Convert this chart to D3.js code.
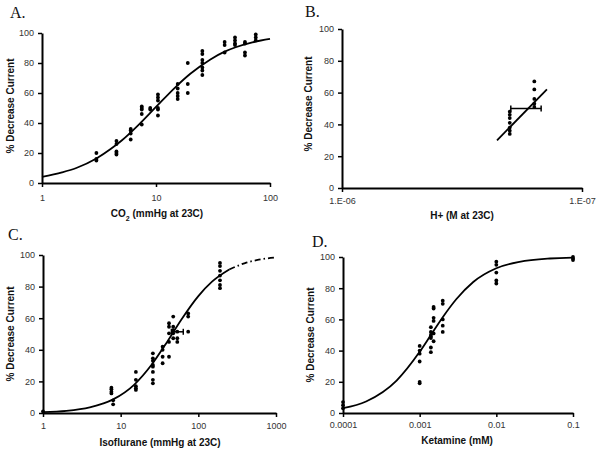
<!DOCTYPE html>
<html><head><meta charset="utf-8">
<script src="https://cdn.jsdelivr.net/npm/d3@7/dist/d3.min.js"></script>
<style>body{margin:0;background:#fff}svg{display:block}</style>
</head><body><svg id="c" width="601" height="458"></svg>
<script>
// ---------- Data ----------
// Panel A: CO2
const co2Conc = [3,3,3, 4.5,4.5,4.5,4.5,4.5, 6,6,6,6, 7.5,7.5,7.5,7.5,7.5, 8.9,8.9,
  10.4,10.4,10.4,10.4,10.4,10.4, 15.5,15.5,15.5,15.5,15.5, 19,19,19,
  25.5,25.5,25.5,25.5,25.5,25.5,25.5, 40,40,40, 49.3,49.3,49.3,49.3, 60.3,60.3,60.3,60.3, 75,75,75];
const co2Pct = [20,16,15, 28,26,21,20,19, 36,35,33,29, 51,50,49,46,39, 50,49,
  59,57,55,50,49,45, 66,63,60,58,56, 80,66,60,
  88,86,82,80,77,75,72, 94,92,87, 97,95,93,92, 94,93,87,85, 99,97,95];
const co2FitX = [1,1.5,2,3,4,5,7,10,15,20,30,40,50,70,100];
const co2FitY = [4.1,7.1,10,16.3,22.6,28.3,38.6,50.7,64.3,72.8,82.4,87.6,90.5,93.8,96.1];

// Panel B: H+
const hConc = [2.0e-7,2.0e-7,2.0e-7,2.0e-7,2.0e-7,2.0e-7,2.0e-7, 1.58e-7,1.58e-7,1.58e-7,1.58e-7,1.58e-7];
const hPct  = [34,36,38,41,44,46,48, 67,62,56,53,51];
const hLineX = [2.26e-7, 1.4e-7];
const hLineY = [30, 62];
const hErrX = [1.98e-7, 1.48e-7];
const hErrY = 50;

// Panel C: Isoflurane
const isoConc = [1, 7.6,7.6,7.6,7.6,8,8, 15.7,15.7,15.7,15.7,15.7,
  26,26,26,26,26,26,26,26, 34.7,34.7,34.7,34.7, 41.9,41.9,41.9,41.9,41.9,
  47.5,47.5,47.5,47.5,47.5, 53.6,53.6,53.6, 74,74,74, 190,190,190,190,190,190,190];
const isoPct = [1, 16,15,13.5,12.4,8,5.5, 26,21,17,15.6,14.6,
  37.8,34.6,33,30.4,29.3,26,21,18.8, 42,40,35.6,31.5, 56.8,54.6,50.4,45,35.6,
  61,54.6,52.5,50.4,47.3, 51.5,47.3,45, 63,61,51.5, 95,93,90,87,84,81,79];
const isoFitX = [1,2,4,8,15,25,40,60,100,150,250];
const isoFitY = [0.6,1.4,3.6,8.6,18,30.5,45.3,58.9,74,83.1,90.8];
const isoExtX = [250,400,600,1000];
const isoExtY = [90.8,94.9,97,98.5];
const isoErrX = [45, 64];
const isoErrY = 51.4;

// Panel D: Ketamine
const ketConc = [0.0001,0.0001,0.0001, 0.001,0.001,0.001,0.001,0.001,0.001,
  0.0014,0.0014,0.0014,0.0014,0.0014,0.0014,0.0014,
  0.00152,0.00152,0.00152,0.00152,0.00152,0.00152,
  0.002,0.002,0.002,0.002,0.002, 0.01,0.01,0.01,0.01,0.01, 0.1,0.1,0.1];
const ketPct = [7,5,3, 43,40,38,33,20,19,
  55,52,50,49,48,42,39,
  68,67,61,59,51,46,
  72,70,60,56,52, 97,95,90,85,83, 100,99,98];
const ketFitX = [0.0001,0.0002,0.0005,0.001,0.0014,0.002,0.003,0.005,0.01,0.02,0.05,0.1];
const ketFitY = [3.1,7.4,20.8,39.2,50,61.4,72.9,84,92.8,96.9,99.05,99.6];

const yTicks = [0,20,40,60,80,100];

// ---------- Drawing ----------
const svg = d3.select('#c');
const SANS = '"Liberation Sans", Arial, sans-serif';
const SERIF = '"Liberation Serif", "Times New Roman", serif';

function panel(o) {
  const g = svg.append('g');
  const x = d3.scaleLog().domain(o.xDomain).range(o.xRange);
  const y = d3.scaleLinear().domain([0,100]).range(o.yRange);

  // letter
  g.append('text').attr('x', o.letter[1]).attr('y', o.letter[2])
    .attr('font-family', SERIF).attr('font-size', 16).attr('fill', '#111').text(o.letter[0]);

  // axes
  const xa = g.append('g').attr('transform', `translate(0,${o.yRange[0]})`)
    .call(d3.axisBottom(x).tickValues(o.xTicks).tickFormat((d,i)=>o.xLabels[i])
      .tickSize(4).tickSizeOuter(0).tickPadding(o.xPad));
  const ya = g.append('g').attr('transform', `translate(${o.xRange[0]},0)`)
    .call(d3.axisLeft(y).tickValues(yTicks).tickSize(4).tickSizeOuter(0).tickPadding(4));
  [xa, ya].forEach(a => {
    a.select('.domain').attr('stroke', '#000').attr('stroke-width', 2);
    a.selectAll('.tick line').attr('stroke', '#000').attr('stroke-width', 1.5);
    a.selectAll('.tick text').attr('font-family', SANS).attr('font-size', 9).attr('fill', '#333');
  });

  // titles
  const t = g.append('text').attr('x', o.title[1]).attr('y', o.title[2])
    .attr('text-anchor', 'middle').attr('font-family', SANS).attr('font-size', 10)
    .attr('font-weight', 'bold').attr('fill', '#111');
  o.title[0].forEach(p => {
    const ts = t.append('tspan').text(p.t);
    if (p.sub) ts.attr('baseline-shift', 'sub').attr('font-size', 7);
  });
  g.append('text').attr('transform', `translate(${o.ylab[0]},${o.ylab[1]}) rotate(-90)`)
    .attr('text-anchor', 'middle').attr('font-family', SANS).attr('font-size', 10)
    .attr('font-weight', 'bold').attr('fill', '#111').attr('dy', '0.35em')
    .text('% Decrease Current');

  const line = d3.line().x(d => x(d[0])).y(d => y(d[1]));
  (o.curves || []).forEach(c => {
    const pts = c.x.map((v,i) => [v, c.y[i]]);
    g.append('path').attr('d', line.curve(c.straight ? d3.curveLinear : d3.curveMonotoneX)(pts))
      .attr('fill', 'none').attr('stroke', '#000').attr('stroke-width', 1.8)
      .attr('stroke-dasharray', c.dash || null);
  });

  (o.err || []).forEach(e => {
    const yy = y(e.y), x1 = x(e.x[0]), x2 = x(e.x[1]);
    g.append('line').attr('x1', x1).attr('x2', x2).attr('y1', yy).attr('y2', yy)
      .attr('stroke', '#000').attr('stroke-width', 1.5);
    [x1, x2].forEach(xx => g.append('line').attr('x1', xx).attr('x2', xx)
      .attr('y1', yy-3).attr('y2', yy+3).attr('stroke', '#000').attr('stroke-width', 1.5));
  });

  g.selectAll('circle.pt').data(o.px.map((v,i)=>[v,o.py[i]])).enter().append('circle')
    .attr('class', 'pt').attr('cx', d => x(d[0])).attr('cy', d => y(d[1]))
    .attr('r', 1.9).attr('fill', '#000');
}

panel({
  letter: ['A.', 10, 18], xDomain: [1,100], xRange: [42,270], yRange: [183,33],
  xTicks: [1,10,100], xLabels: ['1','10','100'], xPad: 8,
  title: [[{t:'CO'},{t:'2',sub:true},{t:' (mmHg at 23C)'}], 157, 217], ylab: [10, 106],
  px: co2Conc, py: co2Pct,
  curves: [{x: co2FitX, y: co2FitY}]
});
panel({
  letter: ['B.', 305, 17], xDomain: [1e-6,1e-7], xRange: [342,582], yRange: [188,29],
  xTicks: [1e-6,1e-7], xLabels: ['1.E-06','1.E-07'], xPad: 6,
  title: [[{t:'H+ (M at 23C)'}], 462, 219], ylab: [308, 104],
  px: hConc, py: hPct,
  curves: [{x: hLineX, y: hLineY, straight: true}],
  err: [{x: hErrX, y: hErrY}]
});
panel({
  letter: ['C.', 8, 240], xDomain: [1,1000], xRange: [43,276], yRange: [413,255],
  xTicks: [1,10,100,1000], xLabels: ['1','10','100','1000'], xPad: 6,
  title: [[{t:'Isoflurane (mmHg at 23C)'}], 160, 446], ylab: [10, 334],
  px: isoConc, py: isoPct,
  curves: [{x: isoFitX, y: isoFitY}, {x: isoExtX, y: isoExtY, dash: '6,3,1.5,3'}],
  err: [{x: isoErrX, y: isoErrY}]
});
panel({
  letter: ['D.', 312, 247], xDomain: [0.0001,0.1], xRange: [343,573], yRange: [413,257],
  xTicks: [0.0001,0.001,0.01,0.1], xLabels: ['0.0001','0.001','0.01','0.1'], xPad: 5,
  title: [[{t:'Ketamine (mM)'}], 457, 444], ylab: [310, 335],
  px: ketConc, py: ketPct,
  curves: [{x: ketFitX, y: ketFitY}]
});
</script></body></html>
